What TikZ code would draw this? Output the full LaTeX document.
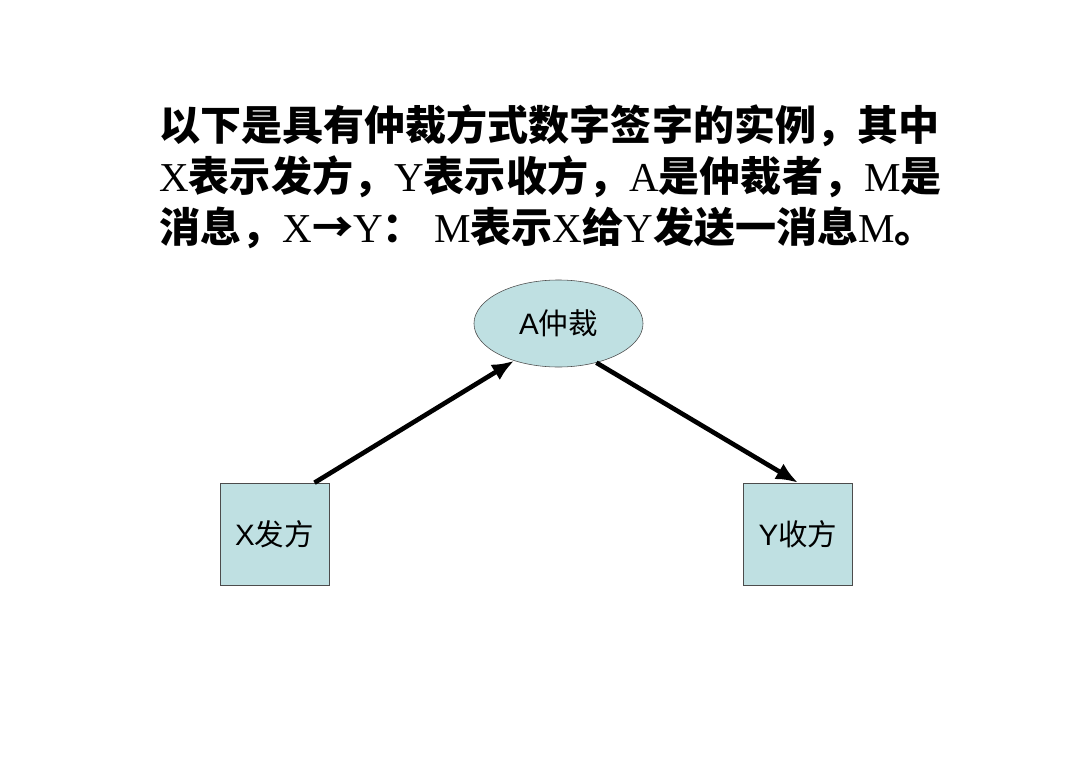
\documentclass[tikz,border=0pt]{standalone}
\usepackage{fontspec}
\setmainfont{Liberation Serif}
\newfontfamily\cjk{Noto Sans CJK SC}
\newfontfamily\sans{Liberation Sans}
\usetikzlibrary{shapes.geometric,arrows.meta}
\definecolor{boxfill}{RGB}{191,224,226}
\tikzset{>={Latex[length=0.55cm,width=0.45cm]}}
\tikzset{
  party/.style={draw=black!70, fill=boxfill, minimum width=2.725cm, minimum height=2.55cm, inner sep=0pt, font=\fontsize{21}{24}\selectfont},
  judge/.style={ellipse, draw=black!70, fill=boxfill, minimum width=4.225cm, minimum height=2.175cm, inner sep=0pt, font=\fontsize{21}{24}\selectfont},
  msg/.style={->, line width=3.3pt}
}

\begin{document}
\begin{tikzpicture}[x=0.025cm, y=-0.025cm]

\useasboundingbox (0,0) rectangle (1080,763);

% title
\node[anchor=north west, align=left, inner sep=0pt, font=\fontsize{29.2}{36.4}\selectfont] (title) at (159,104)
  {{\cjk\bfseries 以下是具有仲裁方式数字签字的实例，其中}\\
   X{\cjk\bfseries 表示发方，}Y{\cjk\bfseries 表示收方，}A{\cjk\bfseries 是仲裁者，}M{\cjk\bfseries 是}\\
   {\cjk\bfseries 消息，}X{\cjk\bfseries →}Y{\cjk\bfseries ：} M{\cjk\bfseries 表示}X{\cjk\bfseries 给}Y{\cjk\bfseries 发送一消息}M{\cjk\bfseries 。}};

% arbiter and the two parties
\node[judge] (a) at (558.5,323.5) {{\sans A}{\cjk 仲裁}};
\node[party] (x) at (274.5,534) {{\sans X}{\cjk 发方}};
\node[party] (y) at (798,534) {{\sans Y}{\cjk 收方}};

\draw[msg] ([xshift=1.0cm]x.north) -- (a.220);
\draw[msg] (a.314) -- (y.north);

\end{tikzpicture}
\end{document}
